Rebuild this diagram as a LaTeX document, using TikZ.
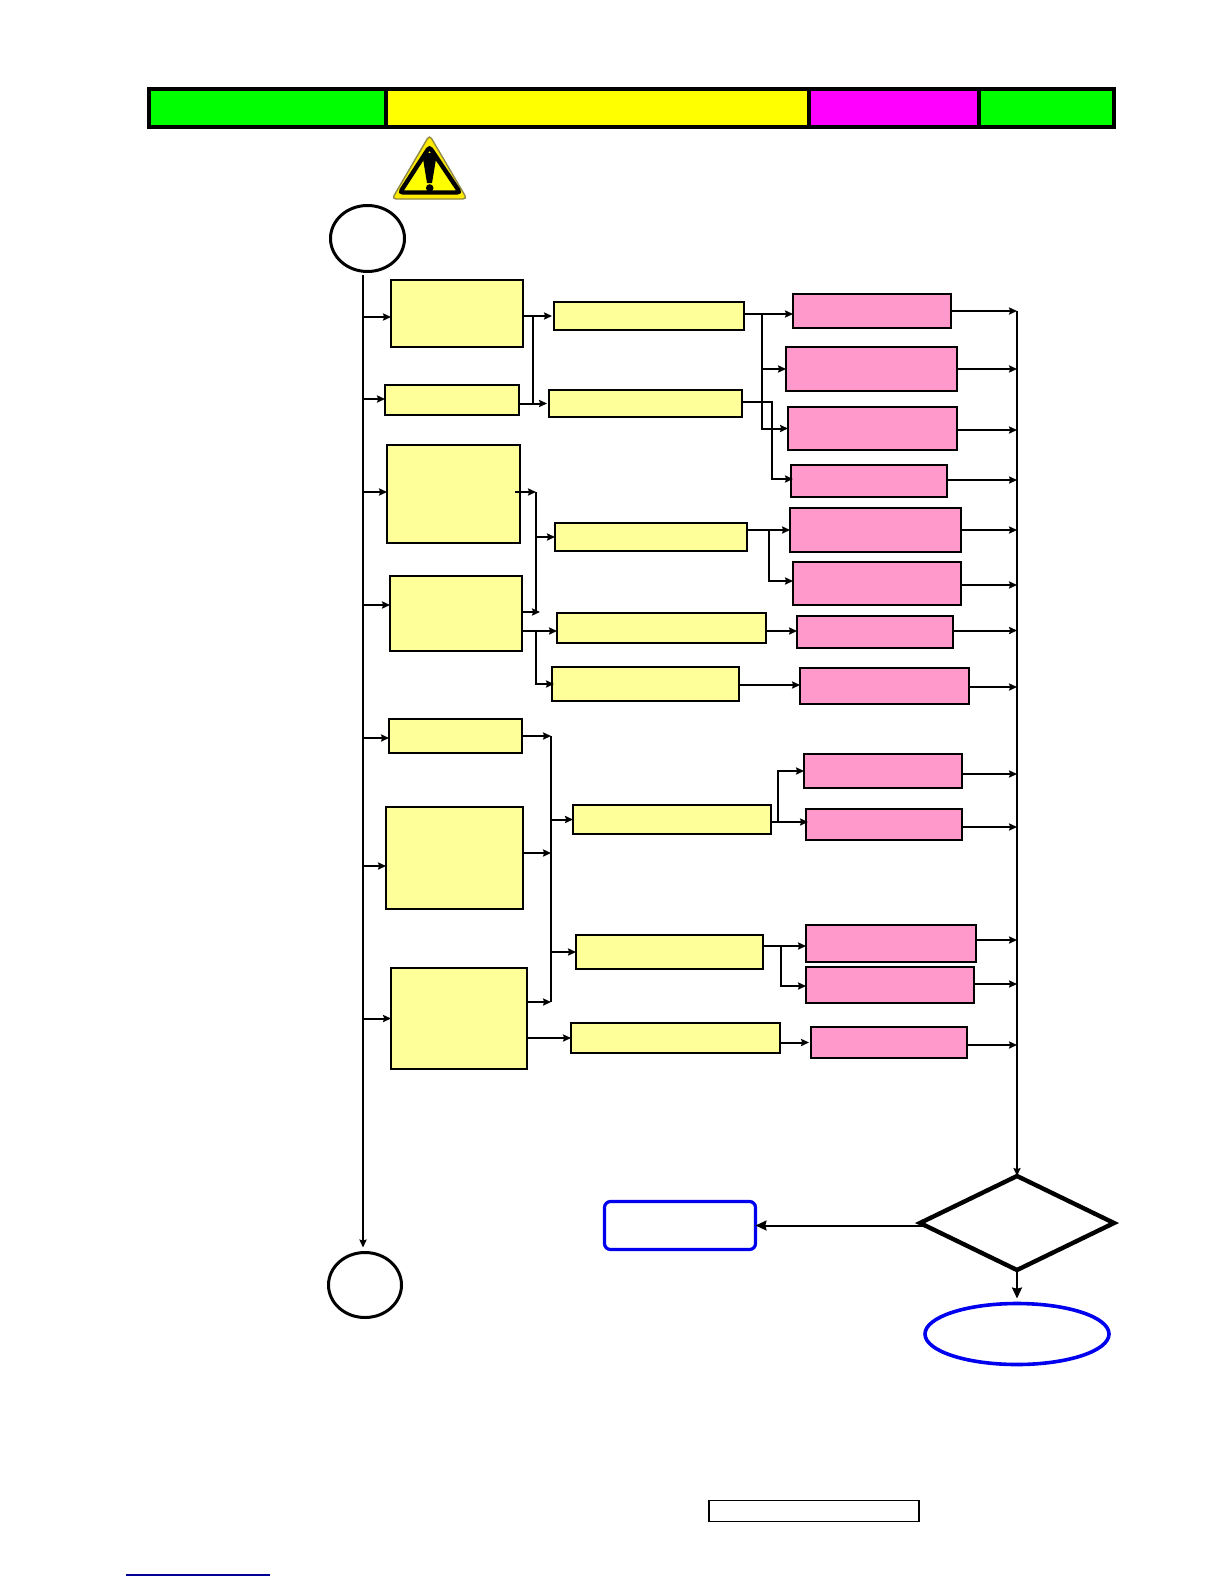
\documentclass[tikz,border=0pt]{standalone}
\usepackage{tikz}
\usetikzlibrary{arrows.meta, positioning, shapes.geometric}
\definecolor{prfill}{HTML}{FFFF99}
\definecolor{pnfill}{HTML}{FF99CC}
\definecolor{hdgreen}{RGB}{0,255,0}
\definecolor{hdyellow}{RGB}{255,255,0}
\definecolor{hdmagenta}{RGB}{255,0,255}
\definecolor{exblue}{RGB}{0,0,238}

\begin{document}
\begin{tikzpicture}[
  x=.5pt, y=-.5pt, >={Stealth[length=4pt,width=3.6pt,inset=.6pt]},
  pr/.style={rectangle, draw, fill=prfill, inner sep=0pt, outer sep=0pt, line width=.65pt},
  pn/.style={rectangle, draw, fill=pnfill, inner sep=0pt, outer sep=0pt, line width=.65pt},
  hv/.style={line width=1.1pt},
  sz/.style 2 args={minimum width=#1, minimum height=#2},
  hd/.style={rectangle, draw, line width=1.8pt, inner sep=0pt, outer sep=0pt, minimum height=19pt},
  rd/.style={ellipse, draw, line width=1.5pt, inner sep=0pt, outer sep=0pt},
  a/.style={->, line width=1pt},
  ab/.style={->, line width=1.4pt},
  ac/.style={-{Stealth[length=5.5pt,width=5pt,inset=.6pt]}, line width=1pt}]
\useasboundingbox (0,0) rectangle (1224,1584);
% header
\node[hd, fill=hdgreen, minimum width=118.5pt, anchor=north west] (ha) at (149,89) {};
\node[hd, fill=hdyellow, minimum width=211.5pt, right=0pt of ha] (hb) {};
\node[hd, fill=hdmagenta, minimum width=85pt, right=0pt of hb] (hc) {};
\node[hd, fill=hdgreen, minimum width=67.5pt, right=0pt of hc] (hd) {};
% warning sign
\draw[fill=hdyellow!92!red, draw=yellow!50!black, line width=.7pt, rounded corners=2pt] (429.5,135) -- (467,199) -- (392,199) -- cycle;
\draw[fill=hdyellow, line width=2.2pt, rounded corners=1.5pt] (429.5,147) -- (460,192.5) -- (400,192.5) -- cycle;
\fill (423,159) .. controls (423,151) and (436,151) .. (436,159) -- (432,183) -- (427,183) -- cycle;
\fill (429.7,188) circle (1.9pt);
% start and end
\node[rd, sz={37pt}{33pt}] (st) at (367.5,238.5) {};
\node[rd, sz={36.5pt}{32.5pt}] (en) at (365,1285) {};
% left column
\node[pr, sz={66pt}{33.5pt}, anchor=north west] (ba) at (391,280) {};
\node[pr, hv, sz={67pt}{15pt}, below right=19pt and -3pt of ba.south west] (bb) {};
\node[pr, sz={66.5pt}{49pt}, below right=15pt and 1pt of bb.south west] (bc) {};
\node[pr, hv, sz={66pt}{37.5pt}, below right=16.5pt and 1.5pt of bc.south west] (bd) {};
\node[pr, sz={66.5pt}{17pt}, below right=34pt and -.5pt of bd.south west] (la) {};
\node[pr, sz={68.5pt}{51pt}, below right=27pt and -1.5pt of la.south west] (lb) {};
\node[pr, sz={68pt}{50.5pt}, below right=29.5pt and 2.5pt of lb.south west] (lc) {};
% middle column
\node[pr, sz={95pt}{14pt}, below right=11pt and 15.5pt of ba.north east] (ma) {};
\node[pr, sz={96.5pt}{13.5pt}, below right=30pt and -2.5pt of ma.south west] (mb) {};
\node[pr, sz={96pt}{14pt}, below right=53pt and 3pt of mb.south west] (mc) {};
\node[pr, sz={104.5pt}{15pt}, below right=31pt and 1pt of mc.south west] (md) {};
\node[pr, sz={93.5pt}{17pt}, below right=12pt and -2.5pt of md.south west] (me) {};
\node[pr, sz={99pt}{14.5pt}, below right=52pt and 10.5pt of me.south west] (mf) {};
\node[pr, sz={93.5pt}{17pt}, below right=50.5pt and 1.5pt of mf.south west] (mg) {};
\node[pr, hv, sz={104.5pt}{15pt}, below right=27pt and -2.5pt of mg.south west] (mh) {};
% right column
\node[pn, sz={79pt}{17pt}, below right=-4pt and 24.5pt of ma.north east] (pa) {};
\node[pn, sz={85.5pt}{22pt}, below right=9.5pt and -3.5pt of pa.south west] (pb) {};
\node[pn, hv, sz={84.5pt}{21.5pt}, below right=8pt and 1pt of pb.south west] (pc) {};
\node[pn, sz={78pt}{16pt}, below right=7.5pt and 1.5pt of pc.south west] (pd) {};
\node[pn, sz={85.5pt}{22pt}, below right=5.5pt and -.5pt of pd.south west] (pe) {};
\node[pn, hv, sz={84pt}{21.5pt}, below right=5pt and 1.5pt of pe.south west] (pf) {};
\node[pn, sz={78pt}{16pt}, below right=5.5pt and 2pt of pf.south west] (pg) {};
\node[pn, hv, sz={84.5pt}{18pt}, below right=10pt and 1.5pt of pg.south west] (ph) {};
\node[pn, sz={79pt}{17pt}, below right=25pt and 2pt of ph.south west] (pi) {};
\node[pn, sz={78pt}{15.5pt}, below right=10.5pt and 1pt of pi.south west] (pj) {};
\node[pn, sz={85pt}{18.5pt}, below right=42.5pt and 0pt of pj.south west] (pk) {};
\node[pn, sz={84pt}{18pt}, below right=2.5pt and 0pt of pk.south west] (pl) {};
\node[pn, hv, sz={78pt}{15.5pt}, below right=12pt and 2.5pt of pl.south west] (pm) {};
% decision and exits
\node[diamond, draw, line width=2.2pt, inner sep=0pt, outer sep=0pt, sz={97pt}{47pt}] (dc) at (1017,1223) {};
\node[rectangle, draw=exblue, line width=1.6pt, rounded corners=3pt, inner sep=0pt, outer sep=0pt, sz={75.5pt}{24pt}] (rb) at (680,1225.5) {};
\node[ellipse, draw=exblue, line width=1.8pt, inner sep=0pt, outer sep=0pt, sz={92pt}{30.5pt}] (ov) at (1017,1334) {};
\node[rectangle, draw, line width=.6pt, inner sep=0pt, outer sep=0pt, sz={105pt}{10.5pt}] (ft) at (814,1511) {};
% rails
\coordinate (rl) at (363,275);
\coordinate (rr) at (1017,311);
\draw[a] (rl) -- ([yshift=2.5pt]rl |- en.north);
\draw[a] (rr) -- (dc.north);
\draw[a]([yshift=-1.75pt]rl |- ba.west)--([yshift=-1.75pt]ba.west);
\draw[a]([yshift=.5pt]rl |- bb.west)--([yshift=.5pt]bb.west);
\draw[a]([yshift=1pt]rl |- bc.west)--([yshift=1pt]bc.west);
\draw[a]([yshift=4.25pt]rl |- bd.west)--([yshift=4.25pt]bd.west);
\draw[a]([yshift=-1pt]rl |- la.west)--([yshift=-1pt]la.west);
\draw[a]([yshift=-4pt]rl |- lb.west)--([yshift=-4pt]lb.west);
\draw[a](rl |- lc.west)--(lc.west);
% upper branches
\coordinate (ja) at ([xshift=5pt]ba.east |- ma.west);
\coordinate (jb) at ([xshift=9pt,yshift=1pt]ma.east);
\coordinate (jc) at ([xshift=15pt,yshift=.75pt]mb.east);
\coordinate (jd) at ([xshift=8pt,yshift=1pt]bc.east);
\coordinate (je) at ([xshift=7pt,yshift=.75pt]bd.east);
\coordinate (jf) at ([xshift=11pt]mc.east |- pe.west);
\draw[a](ba.east |- ma.west)--([xshift=-1pt]ma.west);
\draw[line width=.7pt](ja)--(ja |- mb.west);
\draw[a](bb.east |- mb.west)--([xshift=-1pt]mb.west);
\draw[a]([yshift=1pt]ma.east)--(pa.west |- jb);
\draw[a](jb) |- (pc.west);
\draw[a](jb |- pb.west)--(pb.west);
\draw[ab]([yshift=.75pt]mb.east)--(jc) |- ([xshift=1pt,yshift=1pt]pd.west);
\draw[a]([xshift=-2.5pt,yshift=1pt]bc.east)--(jd);
\draw[line width=1.4pt](jd)--(jd |- je);
\draw[a]([yshift=.75pt]bd.east)--([xshift=2pt]je);
\draw[a](jd |- mc.west)--(mc.west);
\draw[a]([yshift=-1.5pt]bd.east |- md.west)--([yshift=-1.5pt]md.west);
\draw[a]([yshift=-1.5pt]jd |- md.west) |- ([xshift=1pt]me.west);
\draw[a](mc.east |- pe.west)--(pe.west);
\draw[ab](jf) |- ([yshift=1.25pt]pf.west);
\draw[a]([yshift=.5pt]md.east |- pg.west)--([yshift=.5pt]pg.west);
\draw[a]([yshift=.5pt]me.east |- ph.west)--([yshift=.5pt]ph.west);
% lower branches
\coordinate (jg) at ([xshift=14.5pt]la.east);
\coordinate (ji) at ([xshift=3.5pt,yshift=-1.25pt]mf.east);
\coordinate (jj) at ([xshift=9pt,yshift=3pt]mg.east);
\draw[a](la.east)--(jg);
\draw[line width=.8pt](jg)--([yshift=8.25pt]jg |- lc.east);
\draw[a]([yshift=2.5pt]lb.east)--([yshift=2.5pt]jg |- lb.east);
\draw[a]([yshift=8.25pt]lc.east)--([yshift=8.25pt]jg |- lc.east);
\draw[a](jg |- mf.west)--(mf.west);
\draw[a](jg |- mg.west)--(mg.west);
\draw[a](lc.east |- mh.west)--(mh.west);
\draw[a]([yshift=-1.25pt]mf.east)--([xshift=1pt,yshift=1.25pt]pj.west);
\draw[a](ji) |- (pi.west);
\draw[a]([yshift=3pt]mg.east)--([yshift=-1.25pt]pk.west);
\draw[ab](jj) |- ([yshift=-.5pt]pl.west);
\draw[a](mh.east |- pm.west)--([xshift=-1pt]pm.west);
% into the right rail
\draw[a](pa.east)--(rr |- pa.east);
\draw[a](pb.east)--(rr |- pb.east);
\draw[a]([yshift=-.75pt]pc.east)--([yshift=-.75pt]rr |- pc.east);
\draw[a]([yshift=.5pt]pd.east)--([yshift=.5pt]rr |- pd.east);
\draw[a](pe.east)--(rr |- pe.east);
\draw[a]([yshift=-.75pt]pf.east)--([yshift=-.75pt]rr |- pf.east);
\draw[a]([yshift=.75pt]pg.east)--([yshift=.75pt]rr |- pg.east);
\draw[a]([yshift=-.5pt]ph.east)--([yshift=-.5pt]rr |- ph.east);
\draw[a]([yshift=-1.5pt]pi.east)--([yshift=-1.5pt]rr |- pi.east);
\draw[a]([yshift=-1.25pt]pj.east)--([yshift=-1.25pt]rr |- pj.east);
\draw[a]([yshift=1.75pt]pk.east)--([yshift=1.75pt]rr |- pk.east);
\draw[a]([yshift=.5pt]pl.east)--([yshift=.5pt]rr |- pl.east);
\draw[a]([yshift=-1.25pt]pm.east)--([yshift=-1.25pt]rr |- pm.east);
% exits
\draw[ac](dc.south)--([yshift=2.5pt]ov.north);
\draw[ac]([xshift=3pt]dc.west |- rb.east)--(rb.east);
% underline
\coordinate (ua) at (126,1575);
\coordinate (ub) at (270,1575);
\draw[draw=blue!60!black, line width=.7pt](ua)--(ub);
\end{tikzpicture}
\end{document}
